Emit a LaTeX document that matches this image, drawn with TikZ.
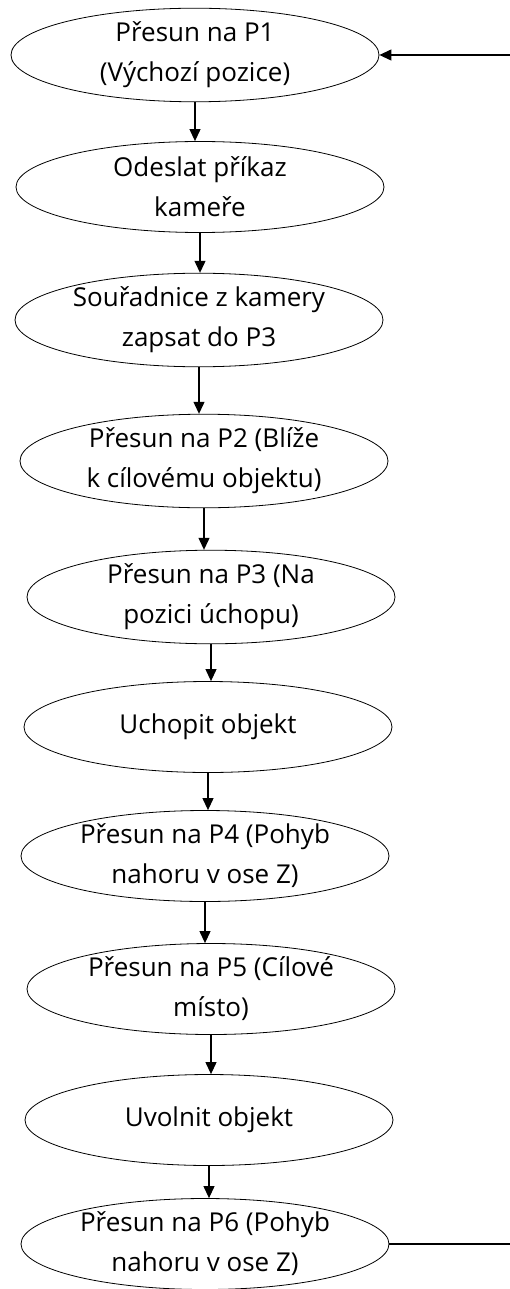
\documentclass[tikz,border=0pt]{standalone}
\usepackage{fontspec}
\setmainfont{Open Sans}
\usetikzlibrary{shapes.geometric,arrows.meta}

\begin{document}
\begin{tikzpicture}[x=1pt,y=-1pt,>={Triangle[length=12pt,width=11pt]},
	stepnode/.style={ellipse,draw,line width=0.8pt,inner sep=0pt,minimum width=368pt,minimum height=91pt,align=center,font=\fontsize{26}{40}\selectfont},
	flow/.style={->,line width=1.1pt}]
	\useasboundingbox (0,0) rectangle (510,1289);
	
	%steps
	\node[stepnode] (p1)      at (195,55)   {Přesun na P1\\(Výchozí pozice)};
	\node[stepnode] (cmd)     at (200,187)  {Odeslat příkaz\\kameře};
	\node[stepnode] (coords)  at (199,320)  {Souřadnice z kamery\\zapsat do P3};
	\node[stepnode] (p2)      at (204,461)  {Přesun na P2 (Blíže\\k cílovému objektu)};
	\node[stepnode] (p3)      at (211,597)  {Přesun na P3 (Na\\pozici úchopu)};
	\node[stepnode] (grab)    at (208,727)  {Uchopit objekt};
	\node[stepnode] (p4)      at (205,856)  {Přesun na P4 (Pohyb\\nahoru v ose Z)};
	\node[stepnode] (p5)      at (211,989)  {Přesun na P5 (Cílové\\místo)};
	\node[stepnode] (release) at (209,1120) {Uvolnit objekt};
	\node[stepnode] (p6)      at (205,1244) {Přesun na P6 (Pohyb\\nahoru v ose Z)};
	
	%arrows down
	\draw[flow] (p1.south)      -- (p1.south |- cmd.north);
	\draw[flow] (cmd.south)     -- (cmd.south |- coords.north);
	\draw[flow] (coords.south)  -- (coords.south |- p2.north);
	\draw[flow] (p2.south)      -- (p2.south |- p3.north);
	\draw[flow] (p3.south)      -- (p3.south |- grab.north);
	\draw[flow] (grab.south)    -- (grab.south |- p4.north);
	\draw[flow] (p4.south)      -- (p4.south |- p5.north);
	\draw[flow] (p5.south)      -- (p5.south |- release.north);
	\draw[flow] (release.south) -- (release.south |- p6.north);
	
	%back to start
	\coordinate (loopout) at (510,1244);
	\coordinate (loopin)  at (510,55);
	\draw[line width=1.1pt] (p6.east) -- (loopout);
	\draw[flow] (loopin) -- (p1.east);
\end{tikzpicture}
\end{document}
